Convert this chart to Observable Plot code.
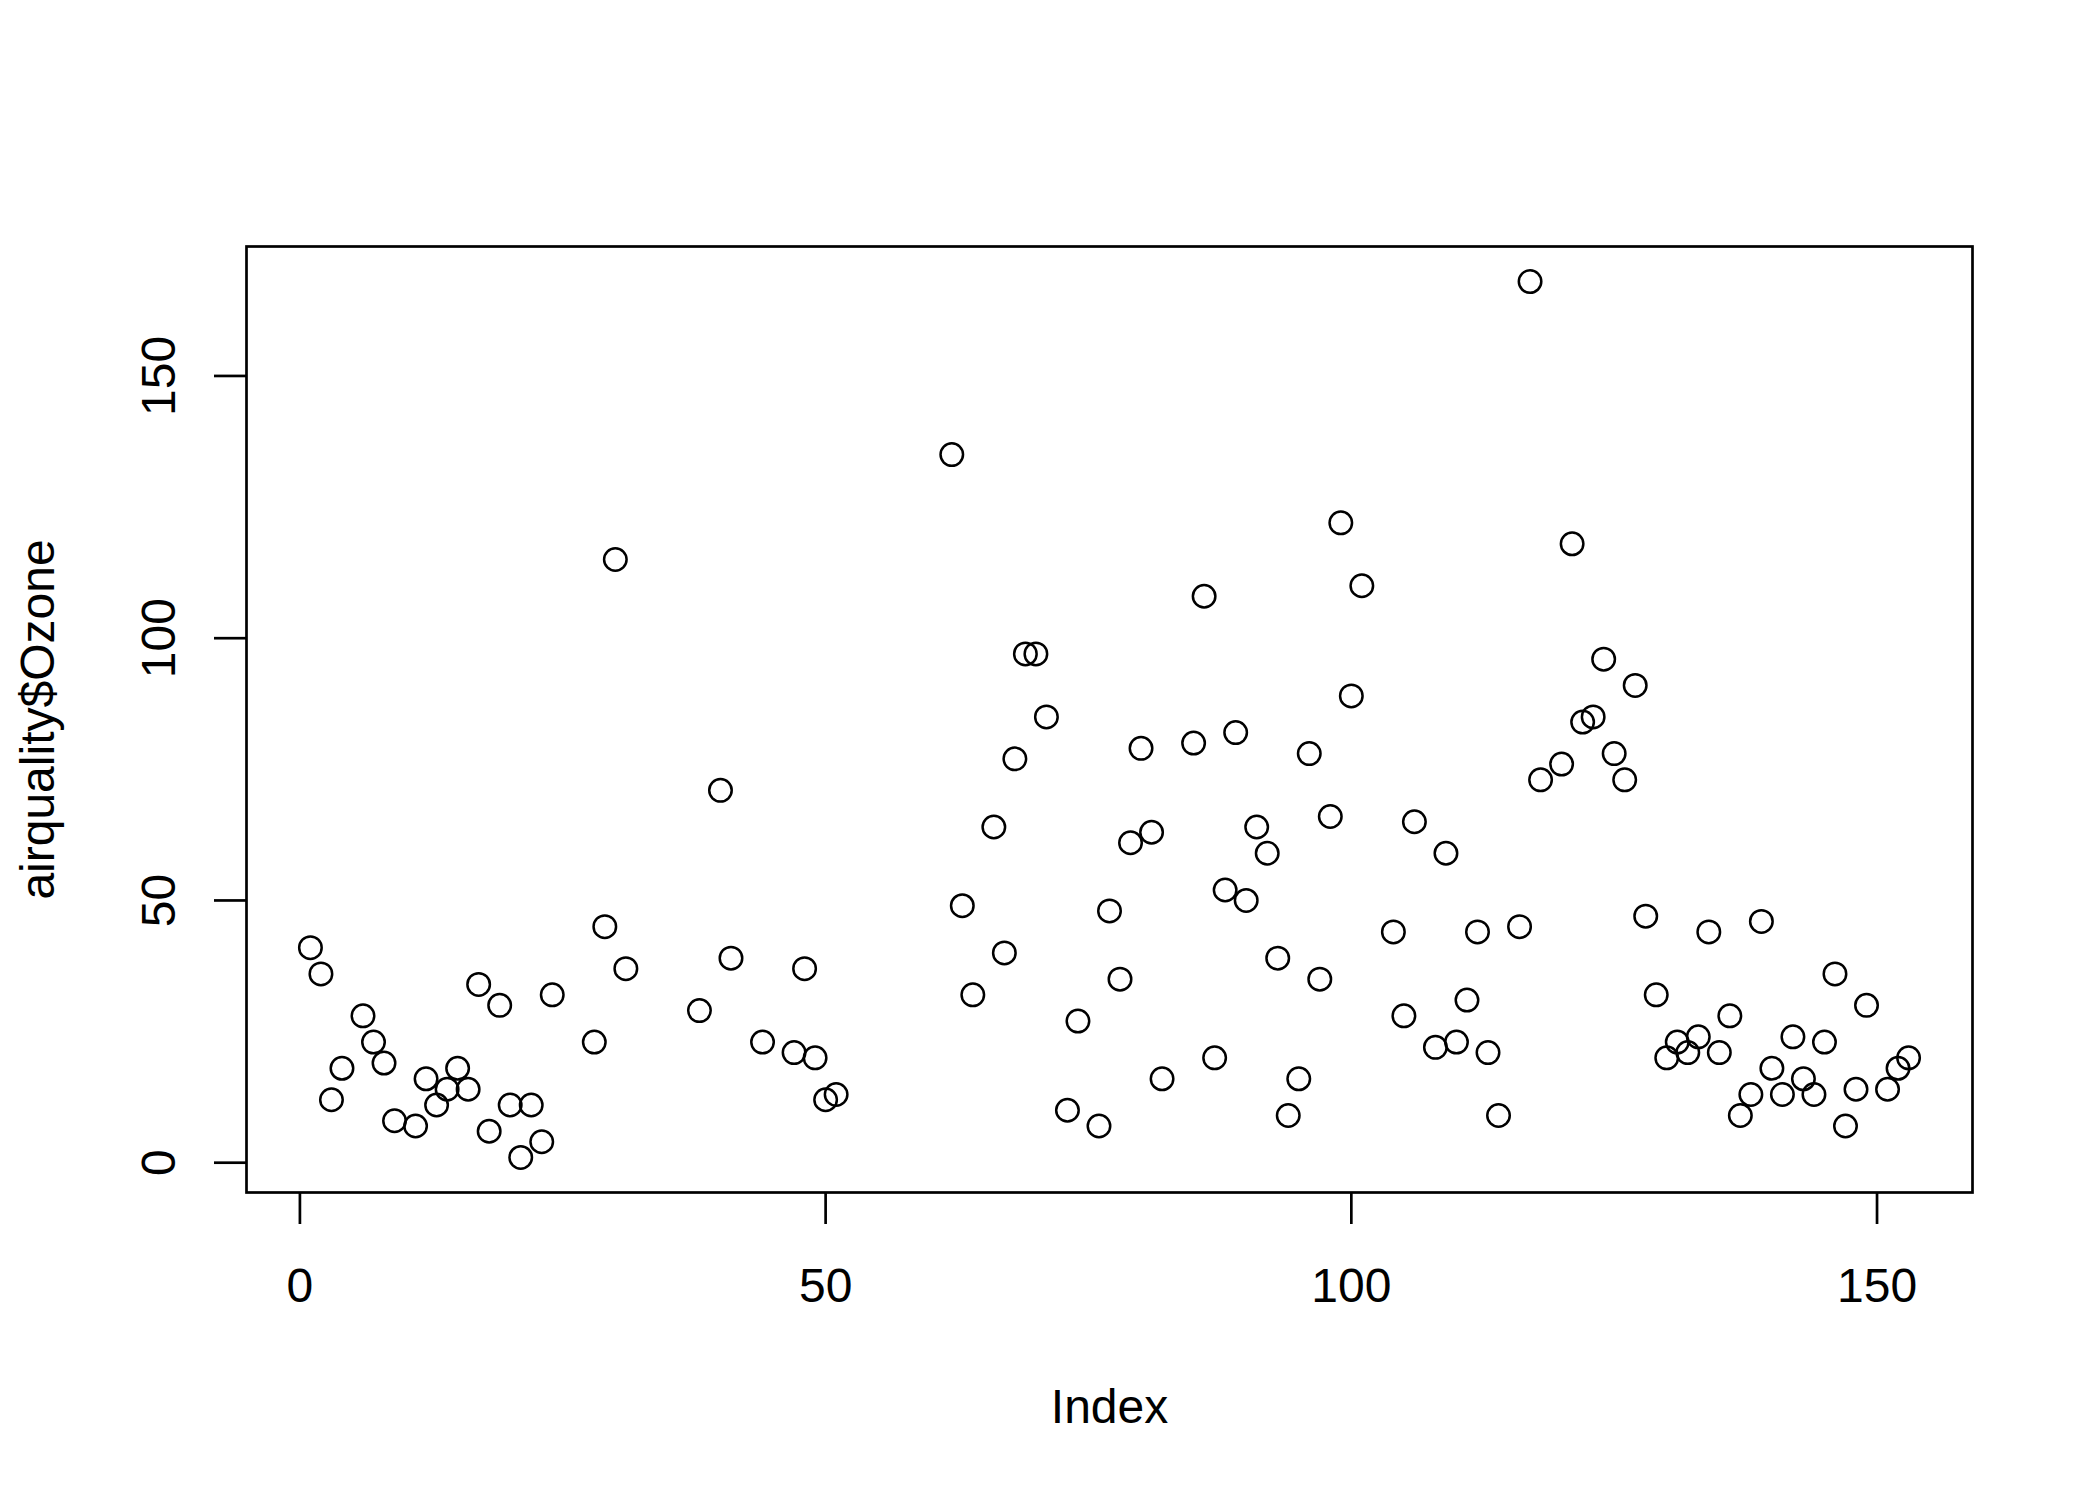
<!DOCTYPE html>
<html>
<head>
<meta charset="utf-8">
<script src="https://cdn.jsdelivr.net/npm/d3@7"></script>
<script src="https://cdn.jsdelivr.net/npm/@observablehq/plot@0.6"></script>
<style>
  html, body { margin: 0; padding: 0; background: #fff; }
  svg { display: block; }
</style>
</head>
<body>
<div id="chart"></div>
<script>
// airquality$Ozone (null = NA), indexed 1..153
const ozone = [
  41, 36, 12, 18, null, 28, 23, 19, 8, null, 7, 16, 11, 14, 18, 14, 34, 6, 30, 11,
  1, 11, 4, 32, null, null, null, 23, 45, 115, 37, null, null, null, null, null, null, 29, null, 71,
  39, null, null, 23, null, null, 21, 37, 20, 12, 13, null, null, null, null, null, null, null, null, null,
  null, 135, 49, 32, null, 64, 40, 77, 97, 97, 85, null, 10, 27, null, 7, 48, 35, 61, 79,
  63, 16, null, null, 80, 108, 20, 52, 82, 50, 64, 59, 39, 9, 16, 78, 35, 66, 122, 89,
  110, null, null, 44, 28, 65, null, 22, 59, 23, 31, 44, 21, 9, null, 45, 168, 73, null, 76,
  118, 84, 85, 96, 78, 73, 91, 47, 32, 20, 23, 21, 24, 44, 21, 28, 9, 13, 46, 18,
  13, 24, 16, 13, 23, 36, 7, 14, 30, null, 14, 18, 20
];
const xTicks = [0, 50, 100, 150];
const yTicks = [0, 50, 100, 150];
const xLabel = "Index";
const yLabel = "airquality$Ozone";

const points = ozone.map((v, i) => ({index: i + 1, ozone: v})).filter(d => d.ozone != null);

const font = "'Liberation Sans', Arial, Helvetica, sans-serif";
const fs = 48;

const chart = Plot.plot({
  width: 2100,
  height: 1500,
  marginLeft: 246,
  marginRight: 128,
  marginTop: 246,
  marginBottom: 308,
  style: {fontFamily: font, background: "#fff", color: "#000"},
  x: {domain: [1 - 0.04 * 152, 153 + 0.04 * 152], axis: null},
  y: {domain: [1 - 0.04 * 167, 168 + 0.04 * 167], axis: null},
  marks: [
    Plot.frame({stroke: "#000", strokeWidth: 2.7}),
    Plot.axisX({ticks: xTicks, tickSize: 32, tickPadding: 43, fontSize: fs, strokeWidth: 2.7, label: null, anchor: "bottom"}),
    Plot.axisY({ticks: yTicks, tickSize: 32, tickFormat: () => "", strokeWidth: 2.7, label: null, anchor: "left"}),
    Plot.text(yTicks, {y: d => d, frameAnchor: "left", dx: -72, rotate: -90, textAnchor: "middle", lineAnchor: "bottom", fontSize: fs, fill: "#000"}),
    Plot.text([xLabel], {frameAnchor: "bottom", dy: 230, lineAnchor: "bottom", textAnchor: "middle", fontSize: fs, fill: "#000"}),
    Plot.text([yLabel], {frameAnchor: "left", dx: -193, rotate: -90, lineAnchor: "bottom", textAnchor: "middle", fontSize: fs, fill: "#000"}),
    Plot.dot(points, {x: "index", y: "ozone", r: 11.25, stroke: "#000", strokeWidth: 2.5, fill: "none"})
  ]
});
document.getElementById("chart").appendChild(chart);
</script>
</body>
</html>
